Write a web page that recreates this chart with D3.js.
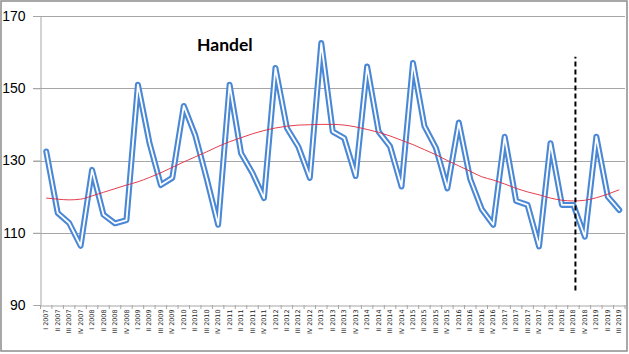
<!DOCTYPE html>
<html>
  <head>
    <meta http-equiv="Content-Type" content="text/html;charset=utf-8"/>
    <title>Handel</title>
    <script src="https://d3js.org/d3.v7.min.js"></script>
  </head>
  <body style="margin:0">
    <div id="content"></div>
    <script type="text/javascript">

        const quarters = ['I', 'II', 'III', 'IV']
        const years = [2007, 2008, 2009, 2010, 2011, 2012, 2013, 2014, 2015, 2016, 2017, 2018, 2019]
        const labels = []
        years.forEach(y => quarters.forEach(q => labels.push(q + ' ' + y)))
        labels.splice(51)

        const values = [
            132.5, 115.5, 112.7, 106.4, 127.4, 115.0, 112.6, 113.5,
            151.0, 135.0, 123.2, 125.2, 145.1, 137.0, 125.0, 112.2,
            151.0, 132.0, 126.5, 119.6, 155.6, 139.0, 133.8, 125.2,
            162.5, 138.0, 136.2, 125.7, 156.0, 138.0, 133.9, 122.8,
            157.0, 139.5, 133.5, 122.3, 140.5, 124.8, 116.5, 112.2,
            136.6, 118.8, 117.7, 106.2, 134.8, 117.7, 117.7, 108.9,
            136.6, 120.0, 116.3
        ]

        const trend = [
            119.6, 119.3, 119.1, 119.3, 120.2, 121.2, 122.2, 123.2,
            124.1, 125.3, 126.6, 128.1, 129.6, 131.0, 132.4, 133.9,
            135.2, 136.3, 137.4, 138.3, 139.0, 139.5, 139.8, 139.9,
            140.0, 140.0, 139.8, 139.3, 138.6, 137.8, 136.8, 135.6,
            134.4, 133.0, 131.6, 130.0, 128.5, 127.0, 125.5, 124.6,
            123.5, 122.3, 121.3, 120.5, 119.6, 119.0, 118.8, 119.0,
            119.7, 120.7, 121.9
        ]

        const yTicks = [90, 110, 130, 150, 170]
        const markerAt = 'III 2018'
        const markerRange = [94, 158.7]

        const width = 629,
            height = 354

        const svg = d3.select('#content').append('svg')
            .attr('width', width)
            .attr('height', height)
            .style('display', 'block')

        svg.append('rect')
            .attr('x', 1).attr('y', 1)
            .attr('width', width - 3).attr('height', height - 4)
            .attr('fill', '#fff')
            .attr('stroke', '#8c8c8c')
            .attr('stroke-width', 1.5)

        const x = d3.scaleBand().domain(labels).range([40.5, 625])
        const y = d3.scaleLinear().domain([90, 170]).range([305, 16])
        const cx = d => x(d) + x.bandwidth() / 2

        // grid
        svg.append('g')
            .selectAll('line')
            .data(yTicks.filter(t => t > 90))
            .enter()
            .append('line')
            .attr('x1', 33).attr('x2', 625)
            .attr('y1', d => Math.round(y(d)) + 0.5)
            .attr('y2', d => Math.round(y(d)) + 0.5)
            .attr('stroke', '#a6a6a6')

        // y axis
        const yAxis = svg.append('g')
            .attr('transform', 'translate(40.5,0)')
            .call(d3.axisLeft(y).tickValues(yTicks).tickSize(7).tickPadding(8))
        yAxis.select('.domain').attr('stroke', '#a6a6a6')
        yAxis.selectAll('line').attr('stroke', '#a6a6a6')
        yAxis.selectAll('text')
            .attr('font-family', 'Liberation Sans, Arial, sans-serif')
            .attr('font-size', 14)
            .attr('fill', '#000')

        // x axis
        const xAxis = svg.append('g')
            .attr('transform', 'translate(0,' + (Math.round(y(90)) + 0.5) + ')')
            .call(d3.axisBottom(x).tickSize(0).tickPadding(4))
        xAxis.select('.domain').attr('stroke', '#a6a6a6')
        xAxis.selectAll('text')
            .attr('font-family', 'DejaVu Sans, Verdana, sans-serif')
            .attr('font-size', 6.4)
            .attr('fill', '#222')
            .attr('text-anchor', 'end')
            .attr('dy', '0.32em')
            .attr('transform', 'rotate(-90) translate(-4,0)')
            .attr('y', 0)
        svg.append('g')
            .selectAll('line')
            .data(labels.concat(['end']))
            .enter()
            .append('line')
            .attr('x1', (d, i) => i < labels.length ? x(d) : x.range()[1])
            .attr('x2', (d, i) => i < labels.length ? x(d) : x.range()[1])
            .attr('y1', Math.round(y(90)))
            .attr('y2', Math.round(y(90)) + 4)
            .attr('stroke', '#a6a6a6')

        const line = d3.line()
            .x((d, i) => cx(labels[i]))
            .y(d => y(d))

        // series: double (compound) line
        svg.append('path')
            .datum(values)
            .attr('d', line)
            .attr('fill', 'none')
            .attr('stroke', '#4a88d6')
            .attr('stroke-width', 6)
            .attr('stroke-linejoin', 'round')
            .attr('stroke-linecap', 'round')
        svg.append('path')
            .datum(values)
            .attr('d', line)
            .attr('fill', 'none')
            .attr('stroke', '#fff')
            .attr('stroke-width', 1.8)
            .attr('stroke-linejoin', 'round')
            .attr('stroke-linecap', 'round')

        // trend
        svg.append('path')
            .datum(trend)
            .attr('d', line.curve(d3.curveMonotoneX))
            .attr('fill', 'none')
            .attr('stroke', '#e0283c')
            .attr('stroke-width', 0.9)

        // marker
        svg.append('line')
            .attr('x1', cx(markerAt) + 2).attr('x2', cx(markerAt) + 2)
            .attr('y1', y(markerRange[0])).attr('y2', y(markerRange[1]))
            .attr('stroke', '#000')
            .attr('stroke-width', 2)
            .attr('stroke-dasharray', '5,3')

        svg.append('text')
            .attr('x', 197).attr('y', 51)
            .attr('font-family', 'Lato, Open Sans, sans-serif')
            .attr('font-weight', 'bold')
            .attr('font-size', 17.5)
            .attr('fill', '#000')
            .text('Handel')

    </script>
  </body>
</html>
